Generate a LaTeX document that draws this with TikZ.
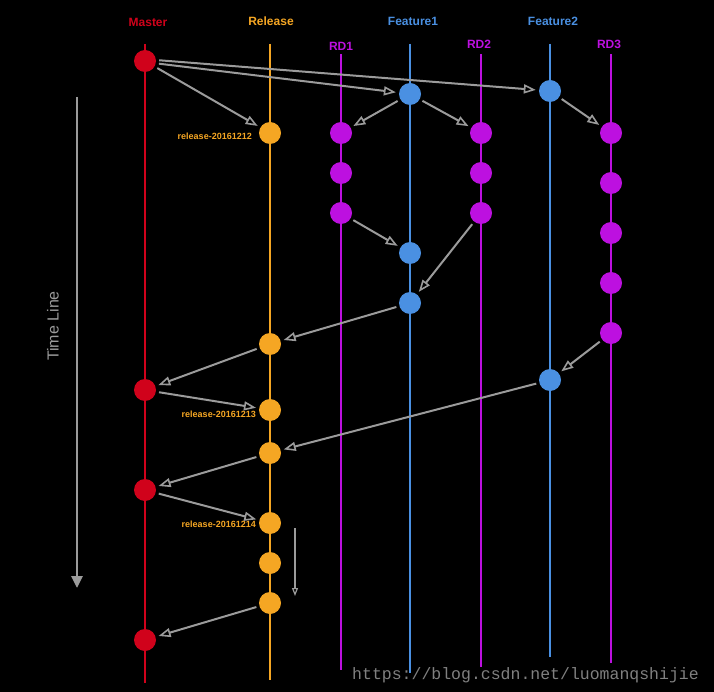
\documentclass[tikz,border=0pt]{standalone}
\usepackage{fontspec}
\setmainfont{Liberation Sans}
\newfontfamily\wmfont{Liberation Mono}
\usetikzlibrary{arrows.meta}
\definecolor{cmaster}{HTML}{D0021B}
\definecolor{crelease}{HTML}{F5A623}
\definecolor{cfeat}{HTML}{4A90E2}
\definecolor{crd}{HTML}{BD10E0}
\definecolor{carrow}{HTML}{9B9B9B}
\definecolor{cwm}{HTML}{808080}
\tikzset{
  commit/.style={circle, fill=#1, minimum size=22pt, inner sep=0pt},
  lane/.style={draw=#1, line width=1.3pt},
  lanelabel/.style={text=#1, font=\fontsize{12}{14}\selectfont\bfseries, inner sep=0pt},
  tag/.style={text=crelease, font=\fontsize{9}{10}\selectfont\bfseries, inner sep=0pt, anchor=east},
  flow/.style={draw=carrow, line width=2pt, -{Triangle[open, length=12pt, width=9pt, line width=1.6pt]}, shorten <=3pt, shorten >=3pt},
}
\begin{document}
\begin{tikzpicture}[x=1pt, y=-1pt]
\fill[black] (0,0) rectangle (714,692);
\useasboundingbox (0,0) rectangle (714,692);
% lanes
\draw[lane=cmaster] (145,44) -- (145,683);
\draw[lane=crelease] (270,44) -- (270,680);
\draw[lane=crd] (341,54) -- (341,670);
\draw[lane=cfeat] (410,44) -- (410,673);
\draw[lane=crd] (481,54) -- (481,667);
\draw[lane=cfeat] (550,44) -- (550,657);
\draw[lane=crd] (611,54) -- (611,663);
% lane labels
\node[lanelabel=cmaster] (lmaster) at (148,22) {Master};
\node[lanelabel=crelease] (lrelease) at (271,21) {Release};
\node[lanelabel=cfeat] (lf1) at (413,21) {Feature1};
\node[lanelabel=cfeat] (lf2) at (553,21) {Feature2};
\node[lanelabel=crd] (lrd1) at (341,46) {RD1};
\node[lanelabel=crd] (lrd2) at (479,44) {RD2};
\node[lanelabel=crd] (lrd3) at (609,44) {RD3};
% commits
\node[commit=cmaster] (m1) at (145,61) {};
\node[commit=cmaster] (m2) at (145,390) {};
\node[commit=cmaster] (m3) at (145,490) {};
\node[commit=cmaster] (m4) at (145,640) {};
\node[commit=crelease] (r1) at (270,133) {};
\node[commit=crelease] (r2) at (270,344) {};
\node[commit=crelease] (r3) at (270,410) {};
\node[commit=crelease] (r4) at (270,453) {};
\node[commit=crelease] (r5) at (270,523) {};
\node[commit=crelease] (r6) at (270,563) {};
\node[commit=crelease] (r7) at (270,603) {};
\node[commit=crd] (a1) at (341,133) {};
\node[commit=crd] (a2) at (341,173) {};
\node[commit=crd] (a3) at (341,213) {};
\node[commit=cfeat] (f1) at (410,94) {};
\node[commit=cfeat] (f2) at (410,253) {};
\node[commit=cfeat] (f3) at (410,303) {};
\node[commit=crd] (b1) at (481,133) {};
\node[commit=crd] (b2) at (481,173) {};
\node[commit=crd] (b3) at (481,213) {};
\node[commit=cfeat] (g1) at (550,91) {};
\node[commit=cfeat] (g2) at (550,380) {};
\node[commit=crd] (c1) at (611,133) {};
\node[commit=crd] (c2) at (611,183) {};
\node[commit=crd] (c3) at (611,233) {};
\node[commit=crd] (c4) at (611,283) {};
\node[commit=crd] (c5) at (611,333) {};
% tags
\node[tag] (t1) at (252,136) {release-20161212};
\node[tag] (t2) at (256,414) {release-20161213};
\node[tag] (t3) at (256,524) {release-20161214};
% flows
\draw[flow] (m1.5) -- (g1);
\draw[flow] (m1.-12) -- (f1);
\draw[flow] (m1) -- (r1);
\draw[flow] (f1) -- (a1);
\draw[flow] (f1) -- (b1);
\draw[flow] (g1) -- (c1);
\draw[flow] (a3) -- (f2);
\draw[flow] (b3) -- (f3);
\draw[flow] (f3) -- (r2);
\draw[flow] (r2) -- (m2);
\draw[flow] (m2) -- (r3);
\draw[flow] (c5) -- (g2);
\draw[flow] (g2) -- (r4);
\draw[flow] (r4) -- (m3);
\draw[flow] (m3) -- (r5);
\draw[flow] (r7) -- (m4);
% small arrow
\coordinate (sa) at (295,528);
\coordinate (sb) at (295,596);
\draw[draw=carrow, line width=1.2pt, -{Triangle[open, length=8pt, width=6pt, line width=1.2pt]}] (sa) -- (sb);
% time line
\coordinate (ta) at (77,97);
\coordinate (tb) at (77,588);
\draw[draw=carrow, line width=2.8pt, -{Triangle[length=12pt, width=11pt]}] (ta) -- (tb);
\node[text=carrow, rotate=90, font=\fontsize{16}{18}\selectfont, inner sep=0pt] (tl) at (53,326) {Time Line};
% watermark
\node[text=cwm, font=\wmfont\fontsize{16.5}{18}\selectfont, anchor=base west, inner sep=0pt] (wm) at (352,679) {https://blog.csdn.net/luomanqshijie};
\end{tikzpicture}
\end{document}
